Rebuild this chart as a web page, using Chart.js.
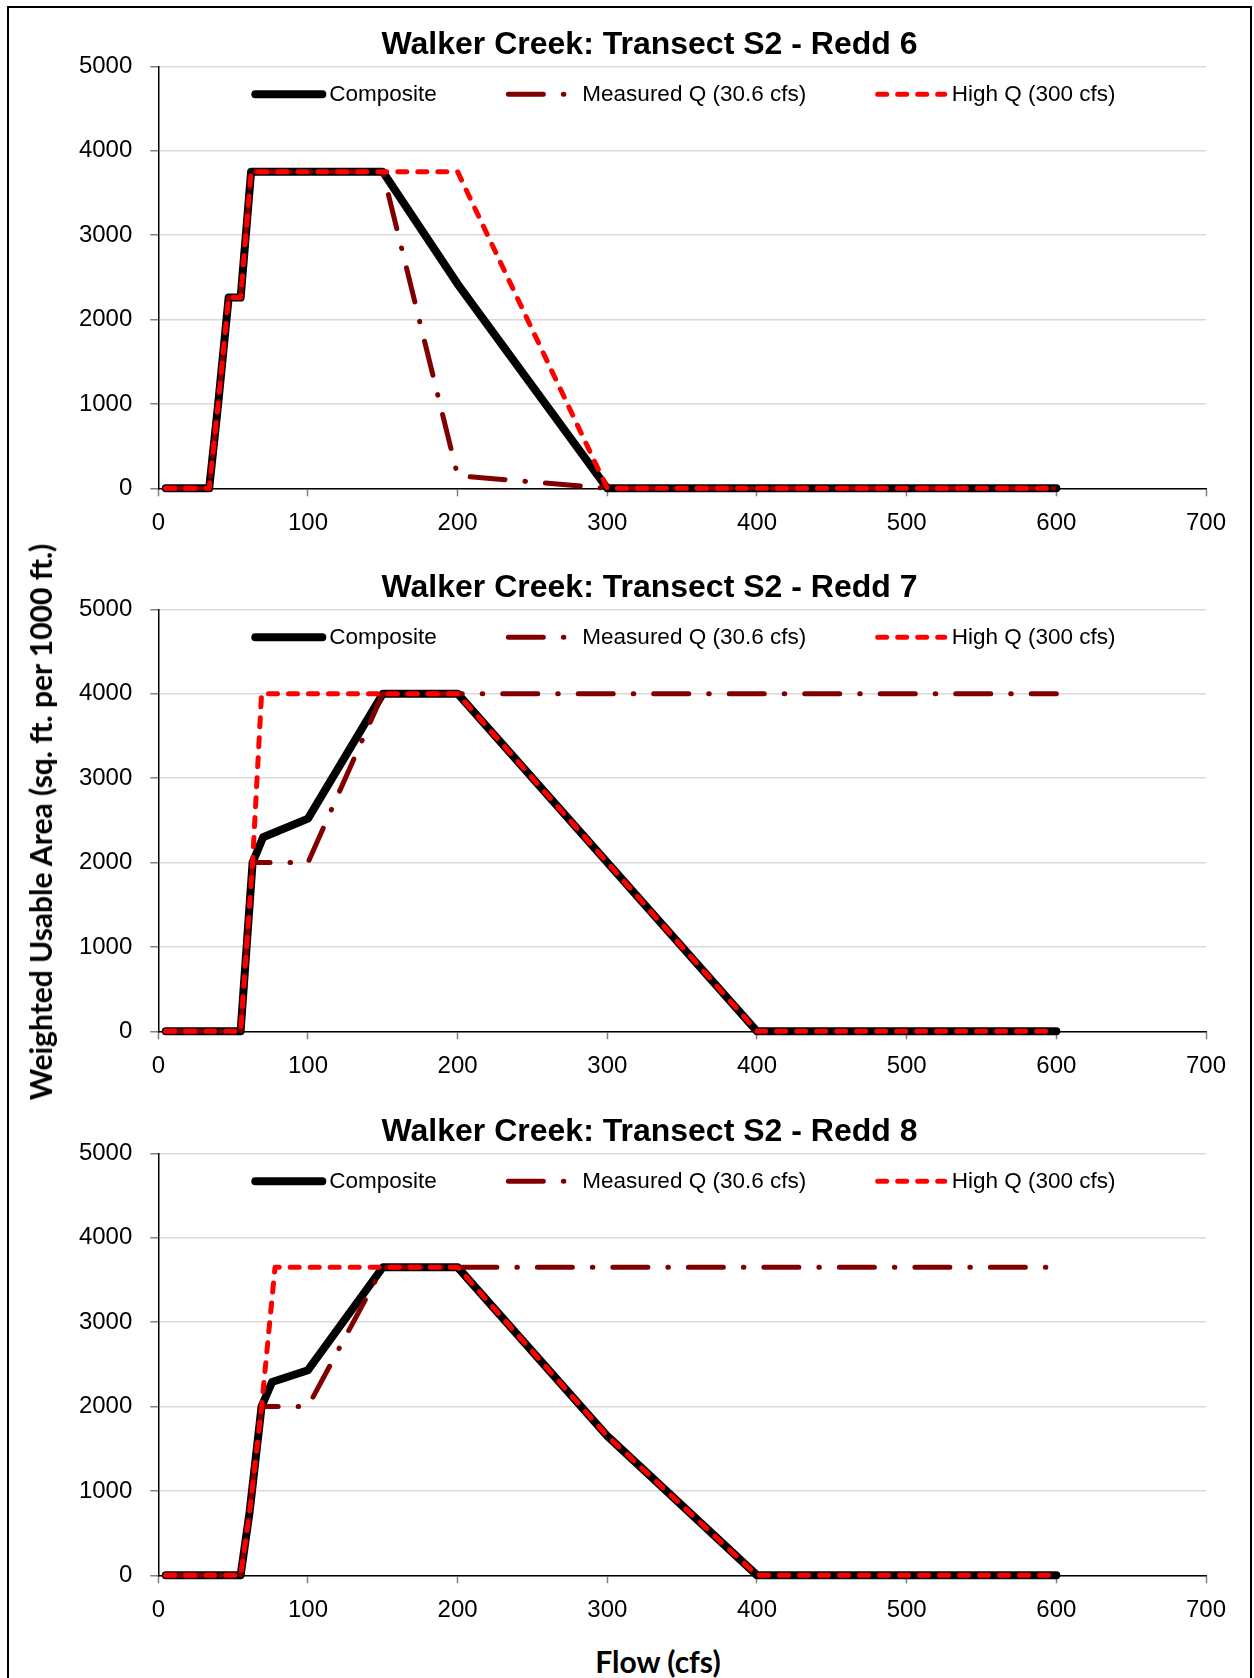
<!DOCTYPE html>
<html><head><meta charset="utf-8">
<script src="https://cdn.jsdelivr.net/npm/chart.js@4.4.1/dist/chart.umd.min.js"></script>
<style>
html,body{margin:0;padding:0;background:#fff;}
body{width:1254px;height:1678px;position:relative;overflow:hidden;}
.cv{position:absolute;left:0;}
#frame{position:absolute;left:7px;top:6px;width:1241px;height:1700px;border:2px solid #000;border-bottom:none;}
#ytitle{position:absolute;left:40px;top:822px;transform:translate(-50%,-50%) rotate(-90deg);font:bold 30px Lato, sans-serif;white-space:nowrap;color:#000;}
#xtitle{position:absolute;left:658px;top:1661px;transform:translate(-50%,-50%);font:bold 30px Lato, sans-serif;white-space:nowrap;color:#000;}
</style></head><body>
<div id="frame"></div>
<canvas id="c6" class="cv" width="1254" height="543" style="top:0px"></canvas>
<canvas id="c7" class="cv" width="1254" height="543" style="top:543px"></canvas>
<canvas id="c8" class="cv" width="1254" height="543" style="top:1087px"></canvas>
<div id="ytitle">Weighted Usable Area (sq. ft. per 1000 ft.)</div>
<div id="xtitle">Flow (cfs)</div>
<script>
// ---- data (flow in cfs, weighted usable area) ----
const chartTitles = ['Walker Creek: Transect S2 - Redd 6', 'Walker Creek: Transect S2 - Redd 7', 'Walker Creek: Transect S2 - Redd 8'];
const seriesNames = ['Composite', 'Measured Q (30.6 cfs)', 'High Q (300 cfs)'];

const redd6CompositeFlow = [5, 34, 40, 47, 55, 62, 150, 200, 300, 600];
const redd6CompositeWua  = [0, 0, 1000, 2260, 2260, 3750, 3750, 2420, 0, 0];
const redd6MeasuredFlow  = [5, 34, 40, 47, 55, 62, 150, 200, 300, 600];
const redd6MeasuredWua   = [0, 0, 1000, 2260, 2260, 3750, 3750, 150, 0, 0];
const redd6HighFlow      = [5, 34, 40, 47, 55, 62, 200, 300, 600];
const redd6HighWua       = [0, 0, 1000, 2260, 2260, 3750, 3750, 0, 0];

const redd7CompositeFlow = [5, 55, 63, 70, 100, 150, 200, 400, 600];
const redd7CompositeWua  = [0, 0, 2000, 2300, 2520, 4000, 4000, 0, 0];
const redd7MeasuredFlow  = [5, 55, 63, 100, 150, 600];
const redd7MeasuredWua   = [0, 0, 2000, 2000, 4000, 4000];
const redd7HighFlow      = [5, 55, 63, 69, 200, 400, 600];
const redd7HighWua       = [0, 0, 2000, 4000, 4000, 0, 0];

const redd8CompositeFlow = [5, 55, 61, 69, 76, 100, 150, 200, 300, 400, 600];
const redd8CompositeWua  = [0, 0, 750, 2000, 2290, 2430, 3650, 3650, 1650, 0, 0];
const redd8MeasuredFlow  = [5, 55, 61, 69, 100, 150, 600];
const redd8MeasuredWua   = [0, 0, 750, 2000, 2000, 3650, 3650];
const redd8HighFlow      = [5, 55, 61, 69, 78, 200, 300, 400, 600];
const redd8HighWua       = [0, 0, 750, 2000, 3650, 3650, 1650, 0, 0];

const xMin = 0, xMax = 700, xStep = 100;
const yMin = 0, yMax = 5000, yStep = 1000;

// ---- styles ----
const seriesStyles = [
  {color: '#000000', width: 8, dash: [], order: 3},
  {color: '#800000', width: 5, dash: [35, 20, 0.5, 20], order: 2},
  {color: '#ff0000', width: 5, dash: [9, 11], order: 1}
];
const FONT = '"Liberation Sans", Arial, sans-serif';
Chart.defaults.font.family = FONT;
Chart.defaults.color = '#000';

function pts(xs, ys) { return xs.map((x, i) => ({x: x, y: ys[i]})); }

// title centred over the frame, drawn above the plot area
const frameTitle = {
  id: 'frameTitle',
  afterDraw(chart, args, opts) {
    const {ctx, chartArea} = chart;
    ctx.save();
    ctx.font = 'bold 32px ' + FONT;
    ctx.textAlign = 'center';
    ctx.textBaseline = 'alphabetic';
    ctx.fillStyle = '#000';
    ctx.fillText(opts.text, chartArea.left + 491.2, chartArea.top - 12.8);
    ctx.restore();
  }
};

const insideLegend = {
  id: 'insideLegend',
  afterDraw(chart) {
    const {ctx, chartArea} = chart;
    ctx.save();
    ctx.font = '22.5px ' + FONT;
    ctx.textBaseline = 'middle';
    ctx.textAlign = 'left';
    let x = chartArea.left + 94;
    const y = chartArea.top + 28;
    chart.data.datasets.forEach(ds => {
      ctx.beginPath();
      ctx.strokeStyle = ds.borderColor;
      ctx.lineWidth = ds.borderWidth;
      ctx.lineCap = 'round';
      ctx.setLineDash(ds.borderDash || []);
      ctx.moveTo(x + 3, y);
      ctx.lineTo(x + 70, y);
      ctx.stroke();
      ctx.setLineDash([]);
      ctx.fillStyle = '#000';
      const tx = x + 77;
      ctx.fillText(ds.label, tx, y);
      x = tx + ctx.measureText(ds.label).width + 68.5;
    });
    ctx.restore();
  }
};

function makeChart(id, title, series) {
  const datasets = series.map((s, i) => ({
    label: seriesNames[i],
    data: pts(s[0], s[1]),
    borderColor: seriesStyles[i].color,
    backgroundColor: seriesStyles[i].color,
    borderWidth: seriesStyles[i].width,
    borderDash: seriesStyles[i].dash,
    borderCapStyle: 'round',
    borderJoinStyle: 'round',
    pointRadius: 0,
    pointHoverRadius: 0,
    tension: 0,
    fill: false,
    clip: false,
    order: seriesStyles[i].order
  }));
  return new Chart(document.getElementById(id), {
    type: 'line',
    data: {datasets: datasets},
    plugins: [insideLegend, frameTitle],
    options: {
      responsive: false,
      animation: false,
      devicePixelRatio: 1,
      layout: {padding: {left: 10, right: 48, top: 66.3, bottom: 0}},
      plugins: {
        legend: {display: false},
        tooltip: {enabled: false},
        title: {display: false},
        frameTitle: {text: title}
      },
      scales: {
        x: {
          type: 'linear',
          min: xMin, max: xMax,
          ticks: {stepSize: xStep, font: {size: 24}, color: '#000', padding: 13, maxRotation: 0,
                  callback: v => String(v)},
          grid: {display: true, drawOnChartArea: false, drawTicks: true, tickLength: 8, tickColor: '#808080', tickWidth: 1.5},
          border: {display: true, color: '#000', width: 1.5},
          afterFit(scale) { scale.height = 54.7; scale.paddingLeft = 0; scale.paddingRight = 0; }
        },
        y: {
          type: 'linear',
          min: yMin, max: yMax,
          ticks: {stepSize: yStep, font: {size: 24}, color: '#000', padding: 18,
                  callback: v => String(v)},
          grid: {display: true, color: '#d9d9d9', lineWidth: 1.5, drawTicks: true, tickLength: 8, tickColor: '#808080', tickWidth: 1.5},
          border: {display: true, color: '#000', width: 1.5},
          afterFit(scale) { scale.width = 148.3; scale.paddingTop = 0; scale.paddingBottom = 0; }
        }
      }
    }
  });
}

makeChart('c6', chartTitles[0], [[redd6CompositeFlow, redd6CompositeWua], [redd6MeasuredFlow, redd6MeasuredWua], [redd6HighFlow, redd6HighWua]]);
makeChart('c7', chartTitles[1], [[redd7CompositeFlow, redd7CompositeWua], [redd7MeasuredFlow, redd7MeasuredWua], [redd7HighFlow, redd7HighWua]]);
makeChart('c8', chartTitles[2], [[redd8CompositeFlow, redd8CompositeWua], [redd8MeasuredFlow, redd8MeasuredWua], [redd8HighFlow, redd8HighWua]]);
</script>
</body></html>
